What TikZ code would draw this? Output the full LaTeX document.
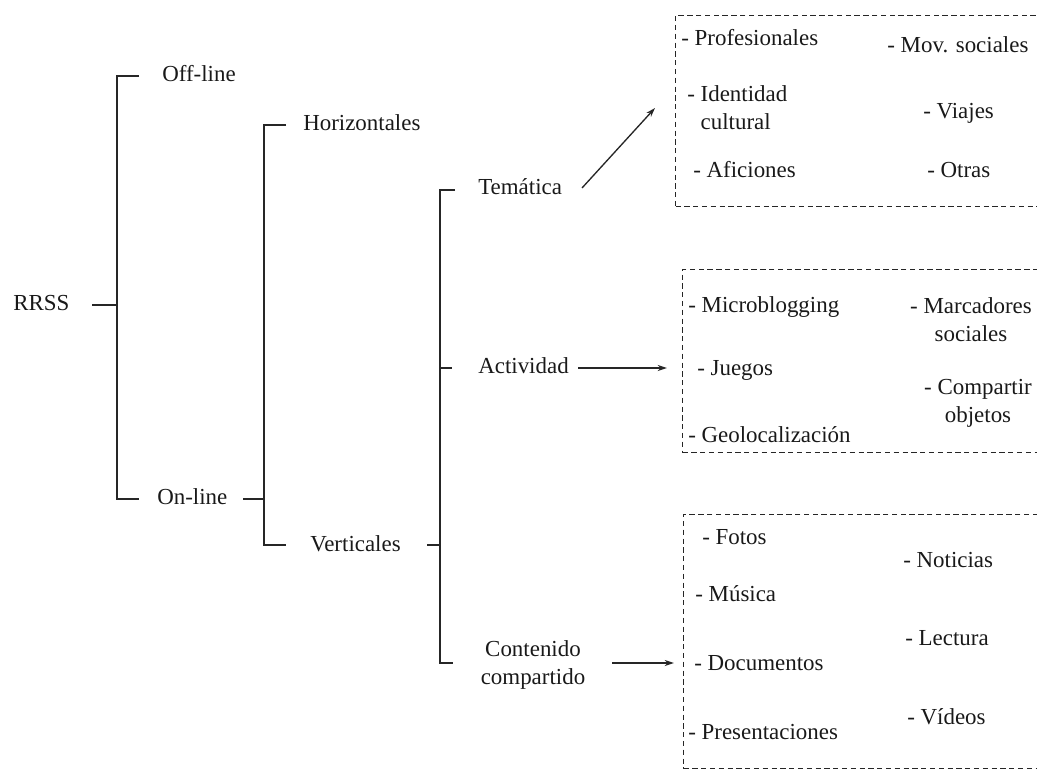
\documentclass[tikz,border=0pt]{standalone}
\usepackage{fontspec}
\setmainfont{Liberation Serif}
\usetikzlibrary{calc,arrows.meta}
\begin{document}
\begin{tikzpicture}[x=0.75pt,y=-0.75pt,
  lbl/.style={font=\fontsize{17.2pt}{21pt}\selectfont, inner sep=0pt, text=black!90},
  itm/.style={lbl, anchor=mid west},
  br/.style={line width=1.35pt, draw=black!85},
  arr/.style={line width=1pt, draw=black!85, -{Stealth[length=7pt,width=4.5pt]}},
  dbox/.style={draw=black!85, line width=0.8pt, dash pattern=on 4pt off 2.6pt, inner sep=0pt, anchor=north west}]
\useasboundingbox (0,0) rectangle (1037,773);
\clip (0,0) rectangle (1037,773);

% dashed boxes (open to the right edge)
\node[dbox, minimum width=281.25pt, minimum height=143.25pt] (box1) at (675,15) {};
\node[dbox, minimum width=276pt, minimum height=137.25pt] (box2) at (682,269) {};
\node[dbox, minimum width=275.25pt, minimum height=190.5pt] (box3) at (683,514) {};

% tree labels
\node[itm] (rrss) at (13,307) {RRSS};
\node[itm] (offline) at (162,78) {Off-line};
\node[itm] (online) at (157,501) {On-line};
\node[itm] (horiz) at (303,127) {Horizontales};
\node[itm] (vert) at (310,548) {Verticales};
\node[itm] (tema) at (478,191) {Temática};
\node[itm] (activ) at (478,370) {Actividad};
\node[lbl, align=center] (conten) at (533,665) {Contenido\\compartido};

% bracket coordinates
\coordinate (rrssE) at (92,305);
\coordinate (b1t) at (139,76);
\coordinate (b1j) at (117,305);
\coordinate (b1b) at (139,499);
\coordinate (onE) at (243,499);
\coordinate (b2t) at (286,125);
\coordinate (b2j) at (264,499);
\coordinate (b2b) at (286,545);
\coordinate (vtE) at (427,545);
\coordinate (b3t) at (455,190);
\coordinate (b3j) at (440,545);
\coordinate (b3b) at (453,663);
\coordinate (b3m) at (440,368);
\coordinate (b3mE) at (452,368);

\draw[br] (b1t) -| (b1j) |- (b1b);
\draw[br] (rrssE) -- (b1j);
\draw[br] (b2t) -| (b2j) |- (b2b);
\draw[br] (onE) -- (b2j);
\draw[br] (b3t) -| (b3j) |- (b3b);
\draw[br] (vtE) -- (b3j);
\draw[br] (b3m) -- (b3mE);

% arrows
\coordinate (a1s) at (582,188);
\coordinate (a1e) at (655,108);
\coordinate (a2s) at (578,368);
\coordinate (a2e) at (667,368);
\coordinate (a3s) at (612,663);
\coordinate (a3e) at (674,663);
\draw[arr] (a1s) -- (a1e);
\draw[arr] (a2s) -- (a2e);
\draw[arr] (a3s) -- (a3e);

% box 1 items
\node[itm] (i11) at (681,42) {- Profesionales};
\node[itm] (i12) at (887,49) {- Mov. sociales};
\node[lbl, anchor=west, align=left] (i13) at (687,108) {- Identidad\\\phantom{- }cultural};
\node[itm] (i14) at (923,115) {- Viajes};
\node[itm] (i15) at (693,174) {- Aficiones};
\node[itm] (i16) at (927,174) {- Otras};

% box 2 items
\node[itm] (i21) at (688,309) {- Microblogging};
\node[itm] (i22) at (697,372) {- Juegos};
\node[itm] (i23) at (688,439) {- Geolocalización};
\node[lbl, align=center] (i24) at (971,320) {- Marcadores\\sociales};
\node[lbl, align=center] (i25) at (978,403) {- Compartir\\objetos};

% box 3 items
\node[itm] (i31) at (702,541) {- Fotos};
\node[itm] (i32) at (695,598) {- Música};
\node[itm] (i33) at (694,667) {- Documentos};
\node[itm] (i34) at (688,736) {- Presentaciones};
\node[itm] (i35) at (903,564) {- Noticias};
\node[itm] (i36) at (905,642) {- Lectura};
\node[itm] (i37) at (907,721) {- Vídeos};
\end{tikzpicture}
\end{document}
